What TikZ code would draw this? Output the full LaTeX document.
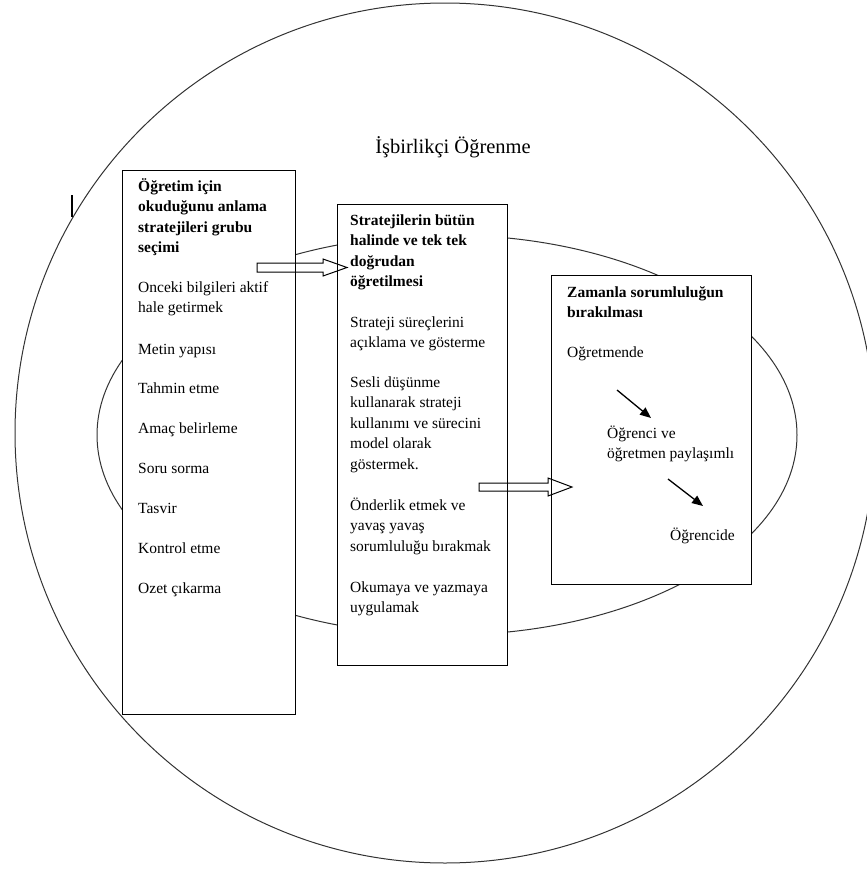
\documentclass[tikz,border=0pt]{standalone}
\usepackage{fontspec}
\setmainfont{Liberation Serif}
\usetikzlibrary{arrows.meta}
\newcommand\mystrut{\rule{0pt}{15pt}}
\begin{document}
\begin{tikzpicture}[x=1pt,y=-1pt,
  ring/.style={draw=black!80, line width=1pt},
  box/.style={draw=black, line width=1.3pt, fill=white, inner sep=0pt, anchor=north west},
  txt/.style={inner sep=0pt, anchor=north west, align=left, font=\fontsize{15.5}{20.5}\selectfont},
  btxt/.style={inner sep=0pt, anchor=north west, align=left, font=\fontsize{15.5}{20.5}\selectfont\bfseries},
  blockarrow/.style={draw=black, line width=1pt, line join=miter},
  smallarrow/.style={draw=black, line width=1.3pt, -{Triangle[length=11pt,width=9pt]}}]
\useasboundingbox (0,0) rectangle (867,870);
% outer circle and inner ellipse
\draw[ring] (445,433) circle[radius=430];
\draw[ring] (447,435) ellipse[x radius=350, y radius=200];
% mark at left
\draw[line width=2.5pt] (72,195) -- (72,217);
% title
\node[anchor=base, inner sep=0pt, font=\fontsize{20.5}{24}\selectfont] (title) at (453,153) {İşbirlikçi Öğrenme};
% boxes
\node[box, minimum width=173pt, minimum height=544pt] (b1) at (122,170) {};
\node[box, minimum width=170pt, minimum height=461pt] (b2) at (337,204) {};
\node[box, minimum width=200pt, minimum height=309pt] (b3) at (551,275) {};
% box 1 texts
\node[btxt] (t11) at (138,176) {\mystrut Öğretim için\\okuduğunu anlama\\stratejileri grubu\\seçimi};
\node[txt] (t12) at (138,277) {\mystrut Onceki bilgileri aktif\\hale getirmek};
\node[txt] (t13) at (138,339) {\mystrut Metin yapısı};
\node[txt] (t14) at (138,378) {\mystrut Tahmin etme};
\node[txt] (t15) at (138,418) {\mystrut Amaç belirleme};
\node[txt] (t16) at (138,458) {\mystrut Soru sorma};
\node[txt] (t17) at (138,498) {\mystrut Tasvir};
\node[txt] (t18) at (138,538) {\mystrut Kontrol etme};
\node[txt] (t19) at (138,578) {\mystrut Ozet çıkarma};
% box 2 texts
\node[btxt] (t21) at (350,210) {\mystrut Stratejilerin bütün\\halinde ve tek tek\\doğrudan\\öğretilmesi};
\node[txt] (t22) at (350,312) {\mystrut Strateji süreçlerini\\açıklama ve gösterme};
\node[txt] (t23) at (350,372) {\mystrut Sesli düşünme\\kullanarak strateji\\kullanımı ve sürecini\\model olarak\\göstermek.};
\node[txt] (t24) at (350,495) {\mystrut Önderlik etmek ve\\yavaş yavaş\\sorumluluğu bırakmak};
\node[txt] (t25) at (350,577) {\mystrut Okumaya ve yazmaya\\uygulamak};
% box 3 texts
\node[btxt] (t31) at (567,282) {\mystrut Zamanla sorumluluğun\\bırakılması};
\node[txt] (t32) at (567,342) {\mystrut Oğretmende};
\node[txt] (t33) at (607,423) {\mystrut Öğrenci ve\\öğretmen paylaşımlı};
\node[txt] (t34) at (670,525) {\mystrut Öğrencide};
% block arrows
\coordinate (a1) at (257,263);
\coordinate (a2) at (479,483);
\draw[blockarrow] (a1) -- ++(66,0) -- ++(0,-4) -- ++(24,8.5) -- ++(-24,8.5) -- ++(0,-4) -- ++(-66,0) -- cycle;
\draw[blockarrow] (a2) -- ++(69,0) -- ++(0,-5) -- ++(24,9) -- ++(-24,9) -- ++(0,-5) -- ++(-69,0) -- cycle;
% small arrows
\coordinate (s1) at (617,390);
\coordinate (e1) at (651,418);
\coordinate (s2) at (668,479);
\coordinate (e2) at (703,506);
\draw[smallarrow] (s1) -- (e1);
\draw[smallarrow] (s2) -- (e2);
\end{tikzpicture}
\end{document}
